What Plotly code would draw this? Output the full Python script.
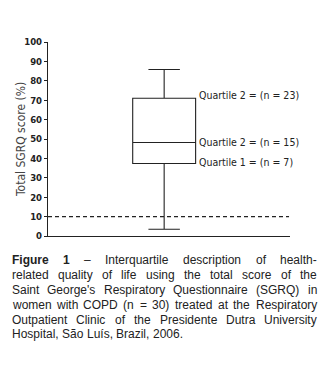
import plotly.graph_objects as go

# Data
q1 = [37.4]
median = [48.2]
q3 = [71.0]
lower_whisker = [3.5]
upper_whisker = [85.8]
reference_line = 10
y_ticks = [0, 10, 20, 30, 40, 50, 60, 70, 80, 90, 100]
box_labels = ["Quartile 2 = (n = 23)", "Quartile 2 = (n = 15)", "Quartile 1 = (n = 7)"]
label_values = [q3[0] + 1.5, median[0] + 0.2, q1[0] + 1.0]
caption_lines = [
    "Figure 1 – Interquartile description of health-",
    "related quality of life using the total score of the",
    "Saint George's Respiratory Questionnaire (SGRQ) in",
    "women with COPD (n = 30) treated at the Respiratory",
    "Outpatient Clinic of the Presidente Dutra University",
    "Hospital, São Luís, Brazil, 2006.",
]

W, H = 326, 369
ml, mr, mt, mb = 48, 36, 42, 133
plot_w = W - ml - mr
plot_h = H - mt - mb

# Arial / Liberation Sans advance widths (units per 2048 em)
AW = {" ": 569, "a": 1139, "b": 1139, "c": 1024, "d": 1139, "e": 1139, "f": 569, "g": 1139,
      "h": 1139, "i": 455, "j": 455, "k": 1024, "l": 455, "m": 1706, "n": 1139, "o": 1139,
      "p": 1139, "q": 1139, "r": 682, "s": 1024, "t": 569, "u": 1139, "v": 1024, "w": 1479,
      "x": 1024, "y": 1024, "z": 1024, "A": 1366, "B": 1366, "C": 1479, "D": 1479, "E": 1366,
      "F": 1251, "G": 1593, "H": 1479, "I": 569, "J": 1024, "K": 1366, "L": 1139, "M": 1706,
      "N": 1479, "O": 1593, "P": 1366, "Q": 1593, "R": 1479, "S": 1366, "T": 1251, "U": 1479,
      "V": 1366, "W": 1933, "X": 1366, "Y": 1366, "Z": 1251, "(": 682, ")": 682, "=": 1196,
      "-": 682, "–": 1139, ",": 569, ".": 569, "'": 391, "ã": 1139, "í": 569}
AWB = {"F": 1251, "i": 569, "g": 1251, "u": 1251, "r": 797, "e": 1139, "1": 1139}

def text_w(word, size, bold=False):
    tot = 0
    for ch in word:
        if bold:
            tot += AWB.get(ch, 1200)
        else:
            tot += AW.get(ch, 1139)
    return tot / 2048 * size

fig = go.Figure()
fig.add_trace(go.Box(
    x=[0], q1=q1, median=median, q3=q3,
    lowerfence=lower_whisker, upperfence=upper_whisker,
    width=0.26, whiskerwidth=0.5,
    fillcolor="rgba(0,0,0,0)",
    line=dict(color="#222", width=1.1),
    boxpoints=False, hoverinfo="skip", showlegend=False,
))

fig.add_shape(type="line", xref="paper", yref="y", x0=0, x1=0.996,
              y0=reference_line, y1=reference_line,
              line=dict(color="#222", width=1.1, dash="4px,3px"))

for txt, v in zip(box_labels, label_values):
    fig.add_annotation(x=0.13, y=v, xref="x", yref="y", text=txt,
                       showarrow=False, xanchor="left", yanchor="middle",
                       xshift=1,
                       font=dict(family="DejaVu Sans Condensed", size=10.5, color="#222"))

def ypaper(px):
    return (H - mb - px) / plot_h

def xpaper(px):
    return (px - ml) / plot_w

# Y axis title as annotation
fig.add_annotation(x=xpaper(21), y=ypaper(140), xref="paper", yref="paper",
                   text="Total SGRQ score (%)", textangle=-90, showarrow=False,
                   xanchor="center", yanchor="middle",
                   font=dict(family="DejaVu Sans Condensed", size=12, color="#444"))

cap_size = 12
cap_left, cap_right = 12, 317
caption_y = [260, 275, 290, 305, 320, 334]
for li, (line, yp) in enumerate(zip(caption_lines, caption_y)):
    words = line.split(" ")
    if li == 0:
        bolds = [True, True] + [False] * (len(words) - 2)
    else:
        bolds = [False] * len(words)
    widths = [text_w(w, cap_size, b) for w, b in zip(words, bolds)]
    justify = li < len(caption_lines) - 1
    if justify and len(words) > 1:
        gap = (cap_right - cap_left - sum(widths)) / (len(words) - 1)
    else:
        gap = text_w(" ", cap_size)
    x = cap_left
    for w, b, wd in zip(words, bolds, widths):
        fig.add_annotation(x=xpaper(x), y=ypaper(yp), xref="paper", yref="paper",
                           text=f"<b>{w}</b>" if b else w, showarrow=False,
                           xanchor="left", yanchor="middle", borderpad=0, borderwidth=0,
                           font=dict(family="Liberation Sans", size=cap_size, color="#222"))
        x += wd + gap

fig.update_layout(
    width=W, height=H,
    margin=dict(l=ml, r=mr, t=mt, b=mb),
    paper_bgcolor="white", plot_bgcolor="white",
    xaxis=dict(range=[-0.48, 0.52], showticklabels=False, ticks="",
               showgrid=False, zeroline=False, showline=True,
               linecolor="#222", linewidth=1.1),
    yaxis=dict(range=[0, 100], tickvals=y_ticks, ticks="outside", ticklen=3,
               tickcolor="#222", tickwidth=1, showgrid=False, zeroline=False,
               showline=True, linecolor="#222", linewidth=1.1,
               tickfont=dict(family="DejaVu Sans Condensed", size=9.5, color="#222",
                             weight="bold")),
)

fig.write_html("out.html")
